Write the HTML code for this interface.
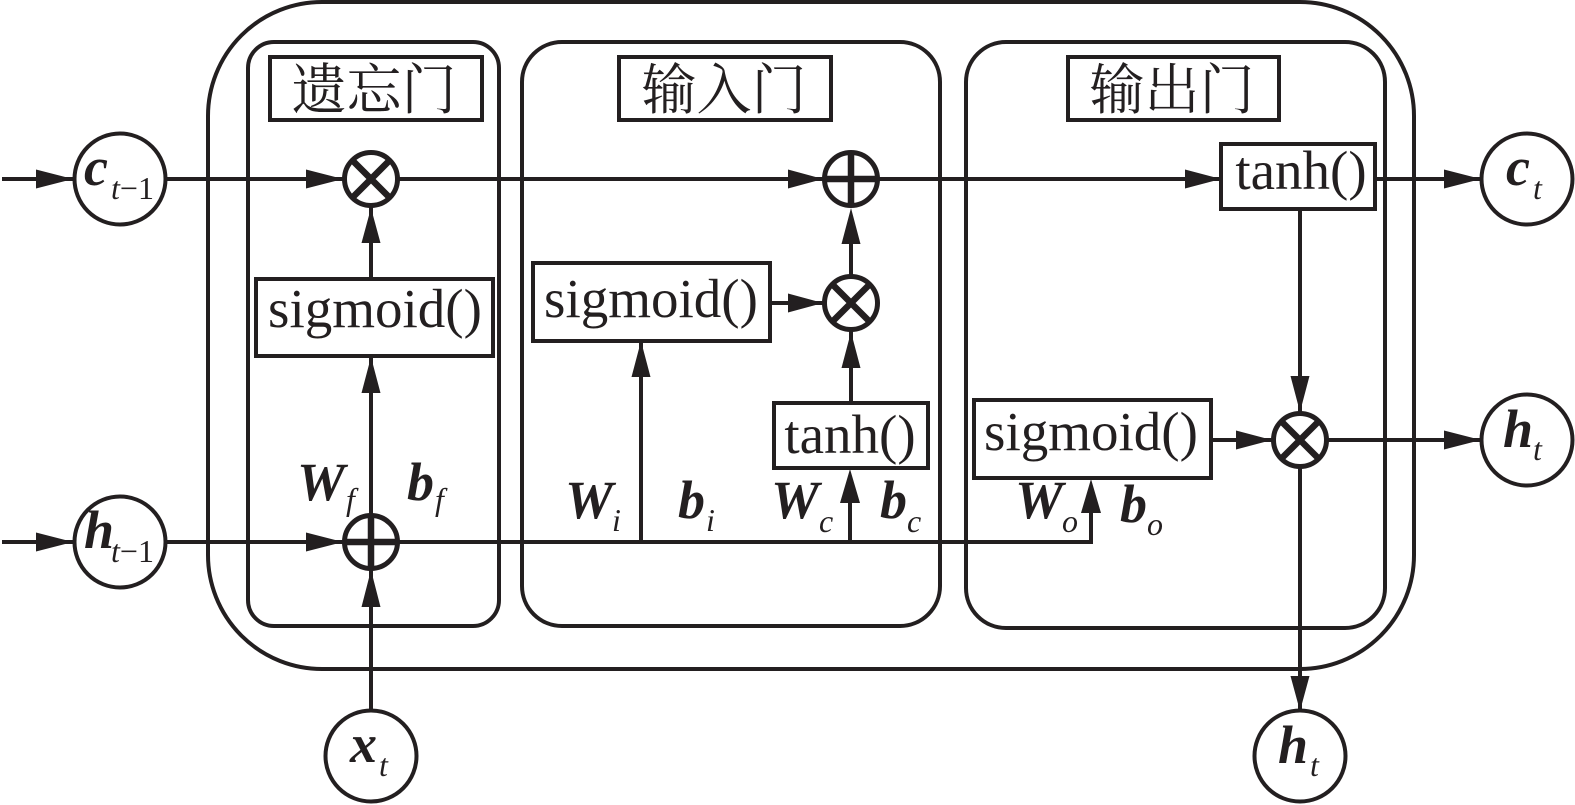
<!DOCTYPE html>
<html><head><meta charset="utf-8"><style>html,body{margin:0;padding:0;background:#fff}svg{display:block}</style></head><body>
<svg width="1575" height="805" viewBox="0 0 1575 805" xmlns="http://www.w3.org/2000/svg">
<defs>
<g id="otimes"><circle r="26.500" fill="#fff" stroke="#231f20" stroke-width="5"/><path d="M-19-19L19 19M-19 19L19-19" stroke="#231f20" stroke-width="6.500" fill="none"/></g>
<g id="oplus"><circle r="26.500" fill="#fff" stroke="#231f20" stroke-width="5"/><path d="M-26 0H26M0-26V26" stroke="#231f20" stroke-width="6.500" fill="none"/></g>
</defs>
<g fill="none" stroke="#231f20" stroke-width="4">
<rect x="208" y="2" width="1206" height="667" rx="114" ry="114"/>
<rect x="248" y="42" width="251" height="584" rx="26"/>
<rect x="522" y="42" width="418" height="584" rx="40"/>
<rect x="966" y="42" width="419" height="586" rx="40"/>
<path d="M2 179H73M166 179H345M397 179H825M877 179H1221M1375 179H1481M2 542H73M166 542H345M397 542H1091V500M371 514V356M371 279V205M371 570V711M641 542V341M850 542V490M851 403V331M851 276V240M770 303H825M1300 209V414M1211 440H1274M1326 440H1481M1300 467V711"/>
</g>
<g fill="#231f20">
<path d="M36 169.500L73 179L36 188.500ZM36 532.500L73 542L36 551.500Z"/>
<path d="M306 169.500L343 179L306 188.500ZM306 532.500L343 542L306 551.500Z"/>
<path d="M788 169.500L823 179L788 188.500ZM1185 169.500L1221 179L1185 188.500ZM1444 169.500L1481 179L1444 188.500ZM1444 430.500L1481 440L1444 449.500Z"/>
<path d="M361.500 243L371 208L380.500 243ZM361.500 393L371 357L380.500 393ZM361.500 607L371 570L380.500 607Z"/>
<path d="M631.500 377L641 341L650.500 377ZM840 503L850 469L860 503ZM841.500 368L851 332L860.500 368ZM841.500 244L851 208L860.500 244ZM1081 513L1091 479L1101 513Z"/>
<path d="M788 293.500L823 303L788 312.500ZM1236 430.500L1272 440L1236 449.500Z"/>
<path d="M1290.500 376L1300 412L1309.500 376ZM1290.500 676L1300 711L1309.500 676Z"/>
</g>
<g fill="#fff" stroke="#231f20" stroke-width="4">
<rect x="270" y="57" width="212" height="63"/>
<rect x="619" y="57" width="212" height="63"/>
<rect x="1068" y="57" width="211" height="63"/>
<rect x="256" y="279" width="237" height="77"/>
<rect x="533" y="263" width="237" height="78"/>
<rect x="774" y="403" width="154" height="65"/>
<rect x="974" y="400" width="237" height="78"/>
<rect x="1221" y="144" width="154" height="65"/>
<circle cx="120" cy="179" r="45.500"/><circle cx="120" cy="542" r="45.500"/><circle cx="1527" cy="179" r="45.500"/><circle cx="1527" cy="440" r="45.500"/><circle cx="371" cy="756" r="45.500"/><circle cx="1300" cy="756" r="45.500"/>
</g>
<use href="#otimes" x="371" y="179"/><use href="#oplus" x="371" y="542"/><use href="#oplus" x="851" y="179"/><use href="#otimes" x="851" y="303"/><use href="#otimes" x="1300" y="440"/>
<g fill="#231f20" font-family="'Liberation Serif',serif">
<g font-family="'Noto Serif CJK SC','Noto Sans CJK SC',serif" font-size="55" text-anchor="middle"><text x="374" y="109">遗忘门</text><text x="724" y="109">输入门</text><text x="1172" y="109">输出门</text></g>
<g font-size="55" text-anchor="middle"><text x="375" y="327">sigmoid()</text><text x="651" y="317">sigmoid()</text><text x="1091" y="450">sigmoid()</text><text x="850" y="453">tanh()</text><text x="1301" y="189">tanh()</text></g>
<g font-size="54" font-weight="bold" font-style="italic">
<text x="84" y="185">c</text><text x="84" y="548">h</text><text x="1506" y="185">c</text><text x="1503" y="447">h</text><text x="350" y="762">x</text><text x="1278" y="763">h</text>
<text x="297" y="500">W</text><text x="407" y="500">b</text><text x="565" y="518">W</text><text x="678" y="518">b</text><text x="771" y="518">W</text><text x="880" y="518">b</text><text x="1015" y="518">W</text><text x="1120" y="522">b</text>
</g>
<g font-size="32" font-style="italic"><text x="111" y="199">t<tspan font-style="normal">−1</tspan></text><text x="111" y="562">t<tspan font-style="normal">−1</tspan></text><text x="1533" y="199">t</text><text x="1533" y="460">t</text><text x="379" y="776">t</text><text x="1310" y="776">t</text><text x="346" y="510">f</text><text x="435" y="510">f</text><text x="612" y="531">i</text><text x="706" y="531">i</text><text x="819" y="532">c</text><text x="907" y="532">c</text><text x="1062" y="532">o</text><text x="1147" y="535">o</text></g>
</g>
</svg>
</body></html>
